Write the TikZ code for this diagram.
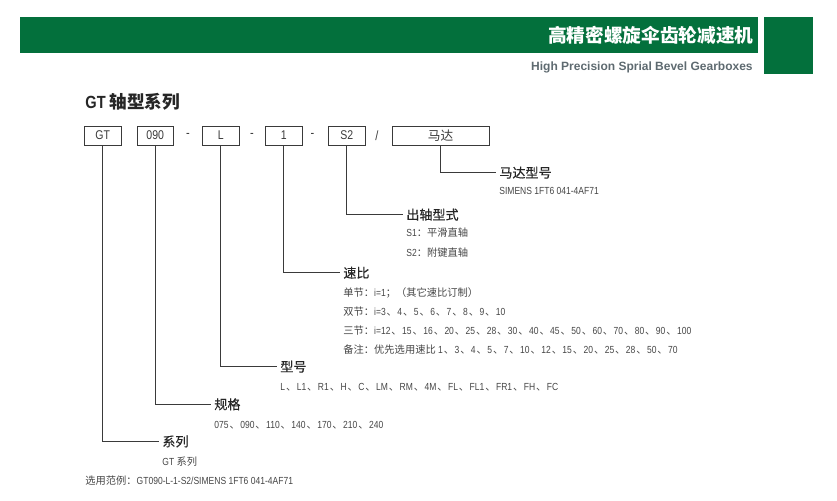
\documentclass[tikz,border=0pt]{standalone}
\usepackage{fontspec}
\setmainfont[FakeStretch=0.83]{Liberation Sans}
\newfontfamily\zhfont{Noto Sans CJK SC}
\newfontfamily\zhheadfont[FakeBold=0.35]{Noto Sans CJK SC}
\newfontfamily\enfont{Liberation Sans}
\newcommand{\zh}[1]{{\zhfont #1}}
\newcommand{\zhb}[1]{{\zhheadfont #1}}
\newcommand{\dun}{\hspace{0.7pt}{\zhfont 、}\hspace{0.35pt}}
\usepackage{xcolor}
\usepackage{tikz}
\usetikzlibrary{positioning}
\definecolor{bargreen}{HTML}{03703C}
\definecolor{subgrey}{HTML}{5E6A70}
\definecolor{linegrey}{HTML}{3A3A3A}
\definecolor{bodygrey}{HTML}{454545}

\begin{document}
\begin{tikzpicture}[x=0.75pt,y=-0.75pt,semithick]
	\tikzstyle{partbox}=[draw=linegrey, line width=0.65pt, text=linegrey, minimum height=14.2pt, inner sep=0pt, font=\fontsize{9.5}{11}\selectfont]
	\tikzstyle{sep}=[text=linegrey, inner sep=0pt, font=\fontsize{10}{11}\selectfont]
	\tikzstyle{head}=[anchor=west, inner sep=2.6pt, text=black!85, font=\fontsize{9.8}{12}\selectfont]
	\tikzstyle{body}=[anchor=west, inner sep=0pt, text=bodygrey, font=\fontsize{7.7}{9}\selectfont]
	\tikzstyle{leader}=[draw=linegrey, line width=0.8pt]
	\useasboundingbox (0,0) rectangle (837,500);

	\fill[bargreen] (20,17) rectangle (758,53);
	\fill[bargreen] (764,17) rectangle (813,74);
	\node[anchor=east, inner sep=0pt, text=white, font=\fontsize{14}{16}\selectfont\bfseries] (zhtitle) at (754,35) {\zh{高精密螺旋伞齿轮减速机}};
	\node[anchor=east, inner sep=0pt, text=subgrey, font=\fontsize{9}{10}\selectfont\bfseries] (entitle) at (753,67.5) {\enfont High Precision Sprial Bevel Gearboxes};
	\node[anchor=west, inner sep=0pt, text=black!85, font=\fontsize{13.2}{15}\selectfont\bfseries] (title) at (85,102) {GT \zh{轴型系列}};

	\node[partbox, minimum width=27.4pt] (GT) at (102.7,135.5) {GT};
	\node[partbox, minimum width=27.4pt] (spec) at (155.2,135.5) {090};
	\node[partbox, minimum width=27.4pt] (L) at (220.7,135.5) {L};
	\node[partbox, minimum width=27.4pt] (ratio) at (283.7,135.5) {1};
	\node[partbox, minimum width=27.4pt] (S) at (346.7,135.5) {S2};
	\node[partbox, minimum width=72.8pt] (motor) at (440.5,135.5) {\zh{马达}};

	\node[sep] (dasha) at (188,135.5) {-};
	\node[sep] (dashb) at (252,135.5) {-};
	\node[sep] (dashc) at (312.5,135.5) {-};
	\node[sep] (slash) at (377,135.5) {/};

	% labels, from the top right down to the bottom left
	\node[head] (motorhead) at (495.5,172.7) {\zhb{马达型号}};
	\node[body] (motortxt) at (499,191) {SIMENS 1FT6 041-4AF71};
	\node[head] (shafthead) at (402.5,214.7) {\zhb{出轴型式}};
	\node[body] (shafta) at (406,233) {S1\zh{：平滑直轴}};
	\node[body] (shaftb) at (406,253) {S2\zh{：附键直轴}};
	\node[head] (ratiohead) at (339.5,272.7) {\zhb{速比}};
	\node[body] (ratioa) at (343,293) {\zh{单节：}i=1\zh{；（其它速比订制）}};
	\node[body] (ratiob) at (343,312) {\zh{双节：}i=3\dun 4\dun 5\dun 6\dun 7\dun 8\dun 9\dun 10};
	\node[body] (ratioc) at (343,331) {\zh{三节：}i=12\dun 15\dun 16\dun 20\dun 25\dun 28\dun 30\dun 40\dun 45\dun 50\dun 60\dun 70\dun 80\dun 90\dun 100};
	\node[body] (ratiod) at (343,350) {\zh{备注：优先选用速比} 1\dun 3\dun 4\dun 5\dun 7\dun 10\dun 12\dun 15\dun 20\dun 25\dun 28\dun 50\dun 70};
	\node[head] (typehead) at (276.5,366.7) {\zhb{型号}};
	\node[body] (typetxt) at (280,387) {L\dun L1\dun R1\dun H\dun C\dun LM\dun RM\dun 4M\dun FL\dun FL1\dun FR1\dun FH\dun FC};
	\node[head] (spechead) at (210.5,404.3) {\zhb{规格}};
	\node[body] (spectxt) at (214,425) {075\dun 090\dun 110\dun 140\dun 170\dun 210\dun 240};
	\node[head] (serieshead) at (158.5,441.5) {\zhb{系列}};
	\node[body] (seriestxt) at (162,462) {GT \zh{系列}};
	\node[body] (example) at (85,481) {\zh{选用范例：}GT090-L-1-S2/SIMENS 1FT6 041-4AF71};

	\path[leader]
		(GT.south) |- (serieshead.west)
		(spec.south) |- (spechead.west)
		(L.south) |- (typehead.west)
		(ratio.south) |- (ratiohead.west)
		(S.south) |- (shafthead.west)
		(motor.south) |- (motorhead.west);
\end{tikzpicture}
\end{document}
